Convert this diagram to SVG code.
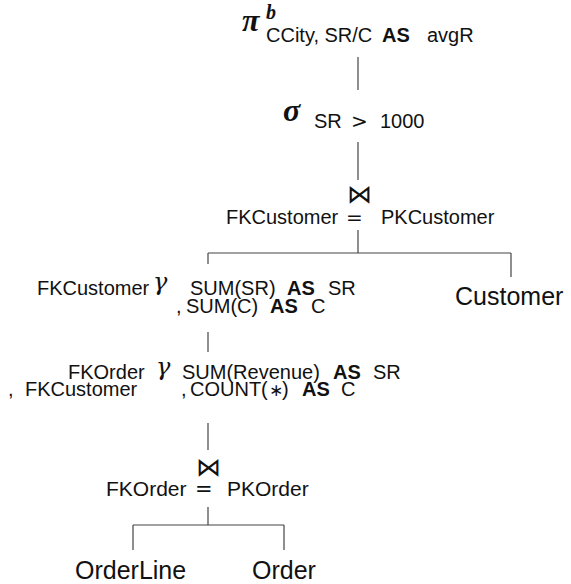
<svg xmlns="http://www.w3.org/2000/svg" width="571" height="584" viewBox="0 0 571 584">
<style>
.t{font-family:"Liberation Sans",Arial,sans-serif;font-size:20px;fill:#111;}
.b{font-weight:bold;}
.s21{font-size:21px;}
.s25{font-size:25px;}
.g{font-family:"DejaVu Serif","Liberation Serif",serif;font-style:italic;fill:#111;}
.gb{font-family:"Liberation Serif","Times New Roman",serif;font-style:italic;font-weight:bold;fill:#111;}
.m{font-family:"DejaVu Sans",sans-serif;fill:#111;}
.c line{stroke:#444;stroke-width:1.2;fill:none;}
</style>
<rect width="571" height="584" fill="#fff"/>
<g id="connectors" class="c">
<line x1="358" y1="57" x2="358" y2="90"/>
<line x1="358" y1="142" x2="358" y2="180"/>
<line x1="358" y1="230" x2="358" y2="253"/>
<line x1="208" y1="253" x2="511" y2="253"/>
<line x1="208" y1="253" x2="208" y2="264"/>
<line x1="511" y1="253" x2="511" y2="277"/>
<line x1="208" y1="332" x2="208" y2="352"/>
<line x1="208" y1="423" x2="208" y2="450"/>
<line x1="208" y1="507" x2="208" y2="525"/>
<line x1="133" y1="525" x2="284" y2="525"/>
<line x1="133" y1="525" x2="133" y2="550"/>
<line x1="284" y1="525" x2="284" y2="550"/>
</g>
<g id="projection">
<text class="gb" x="242" y="31" font-size="32">π</text>
<text class="gb" x="266" y="19" font-size="20">b</text>
<text class="t" x="266" y="42">CCity, SR/C</text>
<text class="t b" x="382" y="42">AS</text>
<text class="t" x="427" y="42">avgR</text>
</g>
<g id="selection">
<text class="gb" x="283" y="121" font-size="32">σ</text>
<text class="t" x="314" y="128">SR</text>
<text class="m" x="351" y="128" font-size="20">&gt;</text>
<text class="t" x="380" y="128">1000</text>
</g>
<g id="join-customer">
<text class="m" x="347" y="203" font-size="26" textLength="25" lengthAdjust="spacingAndGlyphs">⋈</text>
<text class="t" x="226" y="224">FKCustomer</text>
<text class="m" x="346" y="224" font-size="20">=</text>
<text class="t" x="381" y="224">PKCustomer</text>
</g>
<g id="customer">
<text class="t s25" x="455" y="305">Customer</text>
</g>
<g id="group-customer">
<text class="t" x="37" y="295">FKCustomer</text>
<text class="g" x="153" y="290" font-size="24">γ</text>
<text class="t" x="190" y="295">SUM(SR)</text>
<text class="t b" x="287" y="295">AS</text>
<text class="t" x="328" y="295">SR</text>
<text class="t" x="176" y="313">,</text>
<text class="t" x="186" y="313">SUM(C)</text>
<text class="t b" x="270" y="313">AS</text>
<text class="t" x="311" y="313">C</text>
</g>
<g id="group-order">
<text class="t" x="68" y="379">FKOrder</text>
<text class="g" x="156" y="375" font-size="24">γ</text>
<text class="t" x="182" y="379">SUM(Revenue)</text>
<text class="t b" x="333" y="379">AS</text>
<text class="t" x="373" y="379">SR</text>
<text class="t" x="8" y="396">,</text>
<text class="t" x="25" y="396">FKCustomer</text>
<text class="t" x="181" y="396">,</text>
<text class="t" x="190" y="396">COUNT(</text>
<text class="m" x="269" y="396" font-size="17">∗</text>
<text class="t" x="282" y="396">)</text>
<text class="t b" x="302" y="396">AS</text>
<text class="t" x="341" y="396">C</text>
</g>
<g id="join-order">
<text class="m" x="196" y="476" font-size="26" textLength="25" lengthAdjust="spacingAndGlyphs">⋈</text>
<text class="t s21" x="106" y="496">FKOrder</text>
<text class="m" x="195" y="496" font-size="21">=</text>
<text class="t s21" x="227" y="496">PKOrder</text>
</g>
<g id="orderline">
<text class="t s25" x="75" y="579">OrderLine</text>
</g>
<g id="order">
<text class="t s25" x="252" y="579">Order</text>
</g>
</svg>
